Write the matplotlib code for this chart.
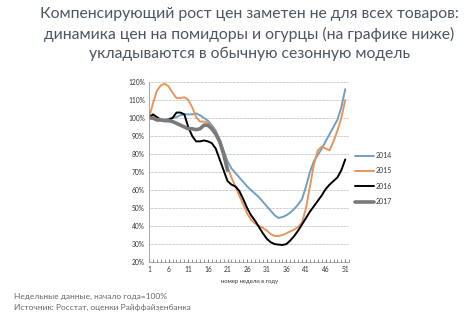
import numpy as np
import matplotlib
matplotlib.use("Agg")
import matplotlib.pyplot as plt

plt.rcParams['font.family'] = ['Lato', 'DejaVu Sans']

weeks = np.arange(1, 52)

y2014 = [100, 99.5, 98.5, 98.5, 99, 99.5, 100, 100.5, 101.5, 102, 102, 102, 102.5, 101.5, 100,
         98.5, 96, 93, 88, 82, 76, 72, 69.5, 67, 64.5, 62, 60, 58, 56, 53.5, 51, 48.5, 46, 44.5, 45,
         46, 47.5, 49.5, 52, 55, 62, 70, 76, 79.5, 83, 87, 91, 95, 99, 106, 116]
y2015 = [100, 108, 115, 118, 119, 117.5, 114, 111, 111, 111.5, 110, 106, 100.5, 98, 98, 97.5,
         95, 91, 86, 80, 73, 67, 62, 57, 52, 47, 43.5, 41.5, 40, 39, 37.5, 35.5, 34.5, 34.5, 35,
         36, 37, 38, 39.5, 42, 50, 62, 74, 82, 84, 83, 82, 87, 93, 100, 110]
y2016 = [100, 102, 100.5, 99, 98.5, 99, 100, 103, 103, 102, 95, 90, 87, 87, 87.5, 87, 86, 83,
         77, 71, 65, 63, 62, 59.5, 55, 50, 46, 43, 39.5, 36, 33, 31, 30, 29.7, 29.5, 30, 32, 34.5,
         37.5, 41, 44.5, 48, 51, 54, 57, 60.5, 63, 65, 67, 71, 77]
y2017 = [100, 100, 99, 99, 98.5, 98.5, 98, 97, 96, 95, 94, 94, 93.5, 94, 96, 96, 94, 91, 87,
         80, 71]

years = ['2014', '2015', '2016', '2017']
colors = ['#6f9fc4', '#e8955a', '#000000', '#7a7a7a']
widths = [1.4, 1.4, 1.4, 2.6]

fig = plt.figure(figsize=(4.7, 3.2), dpi=100)
ax = fig.add_axes([0.317, 0.181, 0.426, 0.563])

series = [y2014, y2015, y2016, y2017]
for yr, vals, c, w in zip(years, series, colors, widths):
    ax.plot(weeks[:len(vals)], vals, color=c, lw=w, label=yr, solid_capstyle='round')

ax.set_xlim(1, 52)
ax.set_ylim(20, 120)
ax.set_yticks(np.arange(20, 121, 10))
ax.set_yticklabels([f'{v}%' for v in range(20, 121, 10)])
ax.set_xticks(np.arange(1, 52, 5))
ax.set_xticks(np.arange(1, 53, 1), minor=True)
ax.tick_params(axis='both', labelsize=4.8, colors='#333333', length=0, pad=3)
ax.tick_params(axis='x', which='both', length=2, color='#888888', direction='in')
ax.yaxis.grid(True, color='#999999', lw=0.5, ls=(0, (1, 1)))
for s in ['top', 'right']:
    ax.spines[s].set_visible(False)
ax.spines['left'].set_color('#999999')
ax.spines['bottom'].set_color('#999999')
ax.spines['left'].set_linewidth(0.6)
ax.spines['bottom'].set_linewidth(0.6)
ax.set_xlabel('номер недели в году', fontsize=4.2, color='#333333', labelpad=4)

leg = ax.legend(loc='upper left', bbox_to_anchor=(1.0, 0.645), frameon=False, fontsize=5,
                handlelength=2.6, labelspacing=1.2, handletextpad=0.3)
for t in leg.get_texts():
    t.set_color('#333333')

fig.text(0.53, 0.978, 'Компенсирующий рост цен заметен не для всех товаров:\n'
         'динамика цен на помидоры и огурцы (на графике ниже)\n'
         'укладываются в обычную сезонную модель',
         ha='center', va='top', fontsize=11.3, color='#4b5563', linespacing=1.45)

fig.text(0.03, 0.056, 'Недельные данные, начало года=100%\nИсточник: Росстат, оценки Райффайзенбанка',
         ha='left', va='center', fontsize=6, color='#666666', linespacing=1.6)

fig.savefig('out.png', dpi=100)
